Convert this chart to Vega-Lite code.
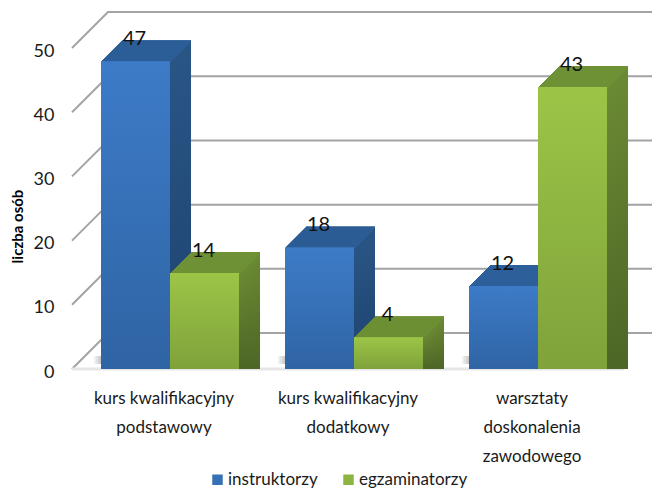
{"$schema":"https://vega.github.io/schema/vega-lite/v6.json","width":552,"height":321,"autosize":{"type":"none"},"padding":{"left":72,"top":48,"right":28,"bottom":121},"background":"white",
"params":[
{"name":"sideB","value":{"gradient":"linear","x1":0,"y1":0,"x2":0,"y2":1,"stops":[{"offset":0,"color":"#295585"},{"offset":1,"color":"#1e4370"}]}},
{"name":"sideG","value":{"gradient":"linear","x1":0,"y1":0,"x2":0,"y2":1,"stops":[{"offset":0,"color":"#6b8a34"},{"offset":1,"color":"#4c6625"}]}},
{"name":"frontB","value":{"gradient":"linear","x1":0,"y1":0,"x2":0,"y2":1,"stops":[{"offset":0,"color":"#3d7bc8"},{"offset":1,"color":"#2f64a4"}]}},
{"name":"frontG","value":{"gradient":"linear","x1":0,"y1":0,"x2":0,"y2":1,"stops":[{"offset":0,"color":"#9cc547"},{"offset":1,"color":"#7fa23a"}]}}
],
"data":{"values":[
{"cat":"kurs kwalifikacyjny podstawowy","series":"instruktorzy","value":47},
{"cat":"kurs kwalifikacyjny podstawowy","series":"egzaminatorzy","value":14},
{"cat":"kurs kwalifikacyjny dodatkowy","series":"instruktorzy","value":18},
{"cat":"kurs kwalifikacyjny dodatkowy","series":"egzaminatorzy","value":4},
{"cat":"warsztaty doskonalenia zawodowego","series":"instruktorzy","value":12},
{"cat":"warsztaty doskonalenia zawodowego","series":"egzaminatorzy","value":43}
]},
"config":{"view":{"stroke":null},"font":"Lato"},
"resolve":{"scale":{"x":"independent"}},
"layer":[
{"data":{"values":[
{"level":0,"run":0,"wall":0},{"level":0,"run":36,"wall":5.6},{"level":0,"run":580,"wall":5.6},
{"level":10,"run":0,"wall":10},{"level":10,"run":36,"wall":15.6},{"level":10,"run":580,"wall":15.6},
{"level":20,"run":0,"wall":20},{"level":20,"run":36,"wall":25.6},{"level":20,"run":580,"wall":25.6},
{"level":30,"run":0,"wall":30},{"level":30,"run":36,"wall":35.6},{"level":30,"run":580,"wall":35.6},
{"level":40,"run":0,"wall":40},{"level":40,"run":36,"wall":45.6},{"level":40,"run":580,"wall":45.6},
{"level":50,"run":0,"wall":50},{"level":50,"run":36,"wall":55.6},{"level":50,"run":580,"wall":55.6}
]},
"mark":{"type":"line","stroke":"#a3a3a3","strokeWidth":2,"clip":false},
"encoding":{"x":{"field":"run","type":"quantitative","scale":{"domain":[0,552]},"axis":null},"y":{"field":"wall","type":"quantitative","scale":{"domain":[0,50]},"axis":{"values":[0,10,20,30,40,50],"grid":false,"domain":false,"ticks":false,"labelFontSize":18,"labelColor":"#1a1a1a","labelPadding":18,"labelOffset":3,"title":"liczba osób","titleFontSize":15,"titleFontWeight":"bold","titleColor":"#000","titleX":-47,"titleY":178}},"detail":{"field":"level"}}},
{"data":{"values":[{"run":0,"wall":0},{"run":552,"wall":0}]},
"mark":{"type":"line","stroke":"#e6e6e6","strokeWidth":3},
"encoding":{"x":{"field":"run","type":"quantitative","scale":{"domain":[0,552]},"axis":null},"y":{"field":"wall","type":"quantitative","axis":{"values":[0,10,20,30,40,50],"grid":false,"domain":false,"ticks":false,"labelFontSize":18,"labelColor":"#1a1a1a","labelPadding":18,"labelOffset":3,"title":"liczba osób","titleFontSize":15,"titleFontWeight":"bold","titleColor":"#000","titleX":-47,"titleY":178}}}},
{"resolve":{"scale":{"xOffset":"independent"}},"encoding":{
"x":{"field":"cat","type":"nominal","sort":null,"scale":{"paddingInner":0.25,"paddingOuter":0.125},"axis":{"title":null,"domain":false,"ticks":false,"labelAngle":0,"labelFontSize":17,"labelLineHeight":29,"labelColor":"#1a1a1a","labelPadding":29,"labelBaseline":"middle","labelExpr":"split(replace(replace(replace(datum.label,'kwalifikacyjny ','kwalifikacyjny|'),'warsztaty ','warsztaty|'),'doskonalenia ','doskonalenia|'),'|')"}},
"y":{"field":"value","type":"quantitative","stack":null,"axis":{"values":[0,10,20,30,40,50],"grid":false,"domain":false,"ticks":false,"labelFontSize":18,"labelColor":"#1a1a1a","labelPadding":18,"labelOffset":3,"title":"liczba osób","titleFontSize":15,"titleFontWeight":"bold","titleColor":"#000","titleX":-47,"titleY":178}}},
"layer":[
{"transform":[{"filter":"datum.series=='instruktorzy'"}],"mark":{"type":"bar","yOffset":-13,"y2Offset":-5,"fill":{"gradient":"linear","x1":0,"y1":0,"x2":1,"y2":0,"stops":[{"offset":0,"color":"#ffffff"},{"offset":0.12,"color":"#c4c4c4"},{"offset":1,"color":"#c4c4c4"}]}},"encoding":{"y":{"datum":0},"y2":{"datum":0},"xOffset":{"field":"series","sort":["instruktorzy","egzaminatorzy"],"scale":{"domain":["instruktorzy","egzaminatorzy"],"range":[-2,136]}}}},
{"mark":{"type":"bar","yOffset":-27,"y2Offset":-27,"fill":{"expr":"datum.series=='instruktorzy'?sideB:sideG"}},"encoding":{"xOffset":{"field":"series","sort":["instruktorzy","egzaminatorzy"],"scale":{"range":[27,165]}}}},
{"mark":{"type":"bar","yOffset":-27,"y2Offset":-25,"fill":{"expr":"datum.series=='instruktorzy'?'#2d5f9a':'#6e9135'"}},"encoding":{"y2":{"field":"value"},"xOffset":{"field":"series","sort":["instruktorzy","egzaminatorzy"],"scale":{"range":[27,165]}}}},
{"mark":{"type":"bar","yOffset":-26,"y2Offset":-26,"fill":{"expr":"datum.series=='instruktorzy'?sideB:sideG"}},"encoding":{"xOffset":{"field":"series","sort":["instruktorzy","egzaminatorzy"],"scale":{"range":[26,164]}}}},
{"mark":{"type":"bar","yOffset":-26,"y2Offset":-24,"fill":{"expr":"datum.series=='instruktorzy'?'#2d5f9a':'#6e9135'"}},"encoding":{"y2":{"field":"value"},"xOffset":{"field":"series","sort":["instruktorzy","egzaminatorzy"],"scale":{"range":[26,164]}}}},
{"mark":{"type":"bar","yOffset":-25,"y2Offset":-25,"fill":{"expr":"datum.series=='instruktorzy'?sideB:sideG"}},"encoding":{"xOffset":{"field":"series","sort":["instruktorzy","egzaminatorzy"],"scale":{"range":[25,163]}}}},
{"mark":{"type":"bar","yOffset":-25,"y2Offset":-23,"fill":{"expr":"datum.series=='instruktorzy'?'#2d5f9a':'#6e9135'"}},"encoding":{"y2":{"field":"value"},"xOffset":{"field":"series","sort":["instruktorzy","egzaminatorzy"],"scale":{"range":[25,163]}}}},
{"mark":{"type":"bar","yOffset":-24,"y2Offset":-24,"fill":{"expr":"datum.series=='instruktorzy'?sideB:sideG"}},"encoding":{"xOffset":{"field":"series","sort":["instruktorzy","egzaminatorzy"],"scale":{"range":[24,162]}}}},
{"mark":{"type":"bar","yOffset":-24,"y2Offset":-22,"fill":{"expr":"datum.series=='instruktorzy'?'#2d5f9a':'#6e9135'"}},"encoding":{"y2":{"field":"value"},"xOffset":{"field":"series","sort":["instruktorzy","egzaminatorzy"],"scale":{"range":[24,162]}}}},
{"mark":{"type":"bar","yOffset":-23,"y2Offset":-23,"fill":{"expr":"datum.series=='instruktorzy'?sideB:sideG"}},"encoding":{"xOffset":{"field":"series","sort":["instruktorzy","egzaminatorzy"],"scale":{"range":[23,161]}}}},
{"mark":{"type":"bar","yOffset":-23,"y2Offset":-21,"fill":{"expr":"datum.series=='instruktorzy'?'#2d5f9a':'#6e9135'"}},"encoding":{"y2":{"field":"value"},"xOffset":{"field":"series","sort":["instruktorzy","egzaminatorzy"],"scale":{"range":[23,161]}}}},
{"mark":{"type":"bar","yOffset":-22,"y2Offset":-22,"fill":{"expr":"datum.series=='instruktorzy'?sideB:sideG"}},"encoding":{"xOffset":{"field":"series","sort":["instruktorzy","egzaminatorzy"],"scale":{"range":[22,160]}}}},
{"mark":{"type":"bar","yOffset":-22,"y2Offset":-20,"fill":{"expr":"datum.series=='instruktorzy'?'#2d5f9a':'#6e9135'"}},"encoding":{"y2":{"field":"value"},"xOffset":{"field":"series","sort":["instruktorzy","egzaminatorzy"],"scale":{"range":[22,160]}}}},
{"mark":{"type":"bar","yOffset":-21,"y2Offset":-21,"fill":{"expr":"datum.series=='instruktorzy'?sideB:sideG"}},"encoding":{"xOffset":{"field":"series","sort":["instruktorzy","egzaminatorzy"],"scale":{"range":[21,159]}}}},
{"mark":{"type":"bar","yOffset":-21,"y2Offset":-19,"fill":{"expr":"datum.series=='instruktorzy'?'#2d5f9a':'#6e9135'"}},"encoding":{"y2":{"field":"value"},"xOffset":{"field":"series","sort":["instruktorzy","egzaminatorzy"],"scale":{"range":[21,159]}}}},
{"mark":{"type":"bar","yOffset":-20,"y2Offset":-20,"fill":{"expr":"datum.series=='instruktorzy'?sideB:sideG"}},"encoding":{"xOffset":{"field":"series","sort":["instruktorzy","egzaminatorzy"],"scale":{"range":[20,158]}}}},
{"mark":{"type":"bar","yOffset":-20,"y2Offset":-18,"fill":{"expr":"datum.series=='instruktorzy'?'#2d5f9a':'#6e9135'"}},"encoding":{"y2":{"field":"value"},"xOffset":{"field":"series","sort":["instruktorzy","egzaminatorzy"],"scale":{"range":[20,158]}}}},
{"mark":{"type":"bar","yOffset":-19,"y2Offset":-19,"fill":{"expr":"datum.series=='instruktorzy'?sideB:sideG"}},"encoding":{"xOffset":{"field":"series","sort":["instruktorzy","egzaminatorzy"],"scale":{"range":[19,157]}}}},
{"mark":{"type":"bar","yOffset":-19,"y2Offset":-17,"fill":{"expr":"datum.series=='instruktorzy'?'#2d5f9a':'#6e9135'"}},"encoding":{"y2":{"field":"value"},"xOffset":{"field":"series","sort":["instruktorzy","egzaminatorzy"],"scale":{"range":[19,157]}}}},
{"mark":{"type":"bar","yOffset":-18,"y2Offset":-18,"fill":{"expr":"datum.series=='instruktorzy'?sideB:sideG"}},"encoding":{"xOffset":{"field":"series","sort":["instruktorzy","egzaminatorzy"],"scale":{"range":[18,156]}}}},
{"mark":{"type":"bar","yOffset":-18,"y2Offset":-16,"fill":{"expr":"datum.series=='instruktorzy'?'#2d5f9a':'#6e9135'"}},"encoding":{"y2":{"field":"value"},"xOffset":{"field":"series","sort":["instruktorzy","egzaminatorzy"],"scale":{"range":[18,156]}}}},
{"mark":{"type":"bar","yOffset":-17,"y2Offset":-17,"fill":{"expr":"datum.series=='instruktorzy'?sideB:sideG"}},"encoding":{"xOffset":{"field":"series","sort":["instruktorzy","egzaminatorzy"],"scale":{"range":[17,155]}}}},
{"mark":{"type":"bar","yOffset":-17,"y2Offset":-15,"fill":{"expr":"datum.series=='instruktorzy'?'#2d5f9a':'#6e9135'"}},"encoding":{"y2":{"field":"value"},"xOffset":{"field":"series","sort":["instruktorzy","egzaminatorzy"],"scale":{"range":[17,155]}}}},
{"mark":{"type":"bar","yOffset":-16,"y2Offset":-16,"fill":{"expr":"datum.series=='instruktorzy'?sideB:sideG"}},"encoding":{"xOffset":{"field":"series","sort":["instruktorzy","egzaminatorzy"],"scale":{"range":[16,154]}}}},
{"mark":{"type":"bar","yOffset":-16,"y2Offset":-14,"fill":{"expr":"datum.series=='instruktorzy'?'#2d5f9a':'#6e9135'"}},"encoding":{"y2":{"field":"value"},"xOffset":{"field":"series","sort":["instruktorzy","egzaminatorzy"],"scale":{"range":[16,154]}}}},
{"mark":{"type":"bar","yOffset":-15,"y2Offset":-15,"fill":{"expr":"datum.series=='instruktorzy'?sideB:sideG"}},"encoding":{"xOffset":{"field":"series","sort":["instruktorzy","egzaminatorzy"],"scale":{"range":[15,153]}}}},
{"mark":{"type":"bar","yOffset":-15,"y2Offset":-13,"fill":{"expr":"datum.series=='instruktorzy'?'#2d5f9a':'#6e9135'"}},"encoding":{"y2":{"field":"value"},"xOffset":{"field":"series","sort":["instruktorzy","egzaminatorzy"],"scale":{"range":[15,153]}}}},
{"mark":{"type":"bar","yOffset":-14,"y2Offset":-14,"fill":{"expr":"datum.series=='instruktorzy'?sideB:sideG"}},"encoding":{"xOffset":{"field":"series","sort":["instruktorzy","egzaminatorzy"],"scale":{"range":[14,152]}}}},
{"mark":{"type":"bar","yOffset":-14,"y2Offset":-12,"fill":{"expr":"datum.series=='instruktorzy'?'#2d5f9a':'#6e9135'"}},"encoding":{"y2":{"field":"value"},"xOffset":{"field":"series","sort":["instruktorzy","egzaminatorzy"],"scale":{"range":[14,152]}}}},
{"mark":{"type":"bar","yOffset":-13,"y2Offset":-13,"fill":{"expr":"datum.series=='instruktorzy'?sideB:sideG"}},"encoding":{"xOffset":{"field":"series","sort":["instruktorzy","egzaminatorzy"],"scale":{"range":[13,151]}}}},
{"mark":{"type":"bar","yOffset":-13,"y2Offset":-11,"fill":{"expr":"datum.series=='instruktorzy'?'#2d5f9a':'#6e9135'"}},"encoding":{"y2":{"field":"value"},"xOffset":{"field":"series","sort":["instruktorzy","egzaminatorzy"],"scale":{"range":[13,151]}}}},
{"mark":{"type":"bar","yOffset":-12,"y2Offset":-12,"fill":{"expr":"datum.series=='instruktorzy'?sideB:sideG"}},"encoding":{"xOffset":{"field":"series","sort":["instruktorzy","egzaminatorzy"],"scale":{"range":[12,150]}}}},
{"mark":{"type":"bar","yOffset":-12,"y2Offset":-10,"fill":{"expr":"datum.series=='instruktorzy'?'#2d5f9a':'#6e9135'"}},"encoding":{"y2":{"field":"value"},"xOffset":{"field":"series","sort":["instruktorzy","egzaminatorzy"],"scale":{"range":[12,150]}}}},
{"mark":{"type":"bar","yOffset":-11,"y2Offset":-11,"fill":{"expr":"datum.series=='instruktorzy'?sideB:sideG"}},"encoding":{"xOffset":{"field":"series","sort":["instruktorzy","egzaminatorzy"],"scale":{"range":[11,149]}}}},
{"mark":{"type":"bar","yOffset":-11,"y2Offset":-9,"fill":{"expr":"datum.series=='instruktorzy'?'#2d5f9a':'#6e9135'"}},"encoding":{"y2":{"field":"value"},"xOffset":{"field":"series","sort":["instruktorzy","egzaminatorzy"],"scale":{"range":[11,149]}}}},
{"mark":{"type":"bar","yOffset":-10,"y2Offset":-10,"fill":{"expr":"datum.series=='instruktorzy'?sideB:sideG"}},"encoding":{"xOffset":{"field":"series","sort":["instruktorzy","egzaminatorzy"],"scale":{"range":[10,148]}}}},
{"mark":{"type":"bar","yOffset":-10,"y2Offset":-8,"fill":{"expr":"datum.series=='instruktorzy'?'#2d5f9a':'#6e9135'"}},"encoding":{"y2":{"field":"value"},"xOffset":{"field":"series","sort":["instruktorzy","egzaminatorzy"],"scale":{"range":[10,148]}}}},
{"mark":{"type":"bar","yOffset":-9,"y2Offset":-9,"fill":{"expr":"datum.series=='instruktorzy'?sideB:sideG"}},"encoding":{"xOffset":{"field":"series","sort":["instruktorzy","egzaminatorzy"],"scale":{"range":[9,147]}}}},
{"mark":{"type":"bar","yOffset":-9,"y2Offset":-7,"fill":{"expr":"datum.series=='instruktorzy'?'#2d5f9a':'#6e9135'"}},"encoding":{"y2":{"field":"value"},"xOffset":{"field":"series","sort":["instruktorzy","egzaminatorzy"],"scale":{"range":[9,147]}}}},
{"mark":{"type":"bar","yOffset":-8,"y2Offset":-8,"fill":{"expr":"datum.series=='instruktorzy'?sideB:sideG"}},"encoding":{"xOffset":{"field":"series","sort":["instruktorzy","egzaminatorzy"],"scale":{"range":[8,146]}}}},
{"mark":{"type":"bar","yOffset":-8,"y2Offset":-6,"fill":{"expr":"datum.series=='instruktorzy'?'#2d5f9a':'#6e9135'"}},"encoding":{"y2":{"field":"value"},"xOffset":{"field":"series","sort":["instruktorzy","egzaminatorzy"],"scale":{"range":[8,146]}}}},
{"mark":{"type":"bar","yOffset":-7,"y2Offset":-7,"fill":{"expr":"datum.series=='instruktorzy'?sideB:sideG"}},"encoding":{"xOffset":{"field":"series","sort":["instruktorzy","egzaminatorzy"],"scale":{"range":[7,145]}}}},
{"mark":{"type":"bar","yOffset":-7,"y2Offset":-5,"fill":{"expr":"datum.series=='instruktorzy'?'#2d5f9a':'#6e9135'"}},"encoding":{"y2":{"field":"value"},"xOffset":{"field":"series","sort":["instruktorzy","egzaminatorzy"],"scale":{"range":[7,145]}}}},
{"mark":{"type":"bar","yOffset":-6,"y2Offset":-6},"encoding":{"xOffset":{"field":"series","sort":["instruktorzy","egzaminatorzy"],"scale":{"range":[6,144]}},"color":{"field":"series","type":"nominal","sort":["instruktorzy","egzaminatorzy"],"scale":{"domain":["instruktorzy","egzaminatorzy"],"range":["#3670b5","#8db340"]},"legend":{"orient":"none","legendX":137,"legendY":423,"direction":"horizontal","title":null,"symbolType":"square","symbolSize":110,"symbolStrokeWidth":0,"labelFontSize":17,"labelColor":"#1a1a1a","columnPadding":22,"labelOffset":2}}}},
{"mark":{"type":"bar","yOffset":-6,"y2Offset":-6,"fill":{"expr":"datum.series=='instruktorzy'?frontB:frontG"}},"encoding":{"xOffset":{"field":"series","sort":["instruktorzy","egzaminatorzy"],"scale":{"range":[6,144]}}}},
{"mark":{"type":"text","fontSize":20,"dx":5,"dy":-28,"color":"#111"},"encoding":{"xOffset":{"field":"series","sort":["instruktorzy","egzaminatorzy"]},"text":{"field":"value","type":"quantitative"}}}
]}
]}
